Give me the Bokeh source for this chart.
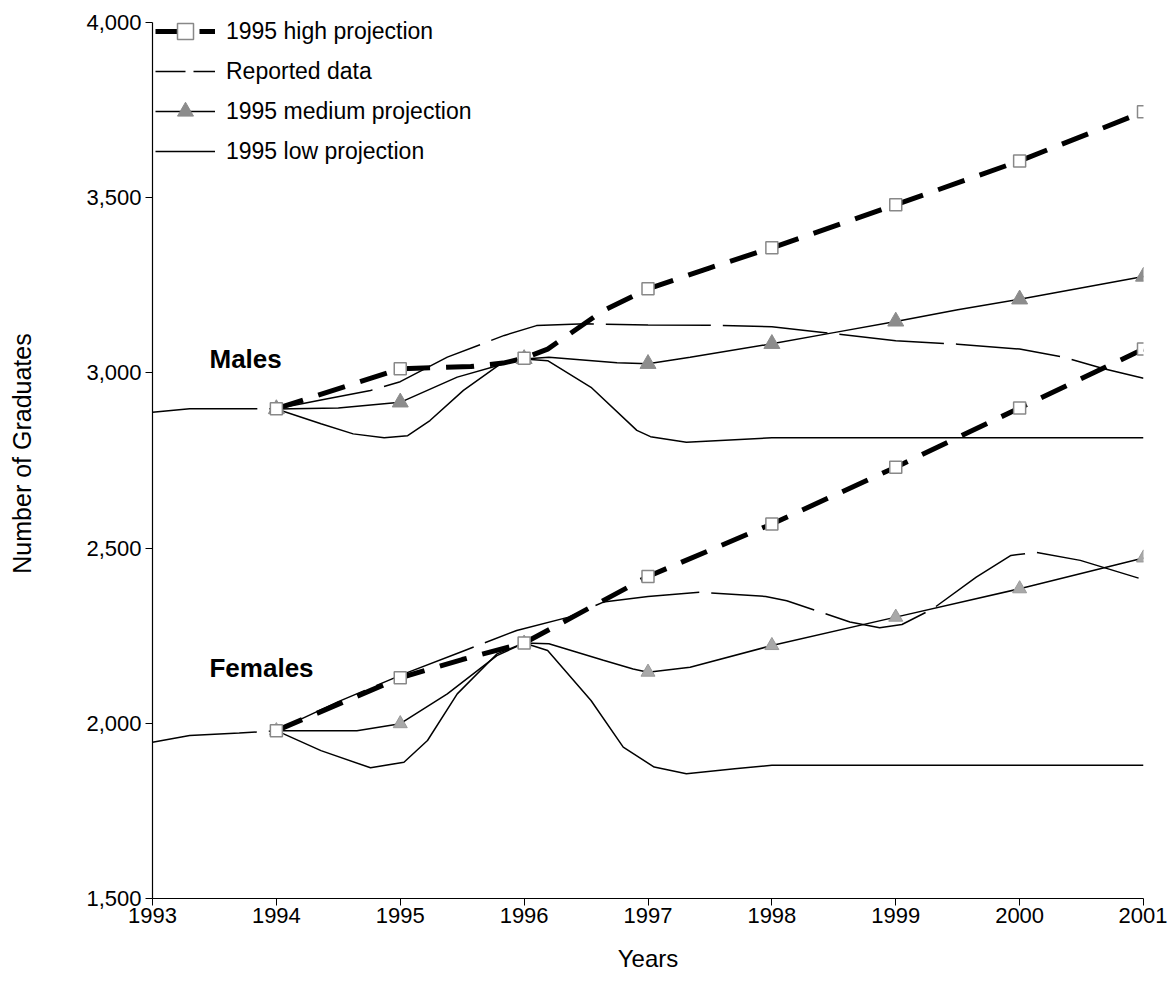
from bokeh.plotting import figure
from bokeh.models import Range1d, Legend, LegendItem, NumeralTickFormatter, FixedTicker, Label
from bokeh.embed import file_html
from bokeh.resources import INLINE

# ---------------- data ----------------
years_ticks = [1993, 1994, 1995, 1996, 1997, 1998, 1999, 2000, 2001]
y_ticks = [1500, 2000, 2500, 3000, 3500, 4000]

male_reported_x = [1993.0, 1993.3, 1994.0, 1994.36, 1994.76, 1995.0, 1995.38, 1995.84, 1996.1, 1996.5,
                   1997.0, 1997.5, 1998.0, 1998.5, 1999.0, 1999.5, 2000.0, 2000.35, 2000.68, 2001.0]
male_reported_y = [2888, 2898, 2898, 2923, 2950, 2975, 3045, 3107, 3135, 3140,
                   3137, 3136, 3132, 3112, 3092, 3082, 3068, 3045, 3012, 2985]

male_high_x = [1994, 1995, 1995.57, 1995.83, 1996, 1996.19, 1996.64, 1997, 1997.5, 1998, 1999, 2000, 2001]
male_high_y = [2898, 3012, 3018, 3028, 3042, 3068, 3178, 3240, 3300, 3357, 3480, 3605, 3745]

male_medium_x = [1994, 1994.5, 1995, 1995.46, 1995.84, 1996, 1996.2, 1996.75, 1997, 1997.34, 1998,
                 1998.5, 1999, 1999.5, 2000, 2001]
male_medium_y = [2897, 2900, 2916, 2988, 3026, 3040, 3045, 3029, 3026, 3045, 3083,
                 3115, 3147, 3180, 3210, 3275]

male_low_x = [1994, 1994.36, 1994.62, 1994.87, 1995.06, 1995.24, 1995.51, 1995.81, 1996, 1996.19,
              1996.54, 1996.91, 1997.02, 1997.31, 1998, 2001]
male_low_y = [2897, 2855, 2826, 2815, 2821, 2864, 2950, 3026, 3040, 3035,
              2959, 2836, 2818, 2802, 2815, 2815]

female_reported_x = [1993.0, 1993.3, 1993.7, 1994.0, 1994.5, 1995.03, 1995.5, 1995.94, 1996.36, 1996.64,
                     1997.0, 1997.42, 1997.95, 1998.12, 1998.63, 1998.87, 1999.05, 1999.3, 1999.65,
                     1999.93, 2000.13, 2000.49, 2001.0]
female_reported_y = [1946, 1965, 1972, 1979, 2062, 2141, 2205, 2265, 2303, 2346,
                     2362, 2374, 2362, 2350, 2289, 2273, 2282, 2327, 2417,
                     2479, 2488, 2465, 2410]

female_high_x = [1994, 1995, 1995.5, 1996, 1997, 1998, 1999, 2000, 2001]
female_high_y = [1979, 2130, 2182, 2229, 2419, 2569, 2731, 2900, 3068]

female_medium_x = [1994, 1994.65, 1995, 1995.38, 1995.78, 1996, 1996.2, 1996.64, 1996.88, 1997, 1997.34,
                   1998, 1999, 2000, 2001]
female_medium_y = [1979, 1979, 1999, 2084, 2193, 2229, 2227, 2180, 2155, 2146, 2160,
                   2222, 2303, 2384, 2472]

female_low_x = [1994, 1994.36, 1994.76, 1995.03, 1995.22, 1995.46, 1995.78, 1996, 1996.19, 1996.54,
                1996.8, 1997.05, 1997.31, 1997.7, 1998, 2001]
female_low_y = [1979, 1922, 1873, 1889, 1951, 2084, 2198, 2229, 2208, 2065,
                1932, 1875, 1856, 1870, 1880, 1880]

legend_labels = ["1995 high projection", "Reported data", "1995 medium projection", "1995 low projection"]


def yearly(xs, ys):
    pts = [(x, y) for x, y in zip(xs, ys) if float(x).is_integer()]
    return [p[0] for p in pts], [p[1] for p in pts]


FONT = "Liberation Sans"

# y range runs a little above 4,000 so that the legend is not clipped; the axis itself stops at 4,000
p = figure(width=1167, height=990, output_backend="svg", toolbar_location=None,
           x_range=Range1d(1993, 2001), y_range=Range1d(1500, 4040),
           min_border_left=152, min_border_right=24, min_border_top=8, min_border_bottom=92)
p.outline_line_color = None
p.xgrid.visible = False
p.ygrid.visible = False
p.background_fill_color = "white"

# axes
for ax in (p.xaxis[0], p.yaxis[0]):
    ax.axis_line_color = "black"
    ax.axis_line_width = 1.2
    ax.major_tick_line_color = "black"
    ax.major_tick_in = 0
    ax.major_tick_out = 7
    ax.minor_tick_line_color = None
    ax.major_label_text_font = FONT
    ax.major_label_text_font_size = "22px"
    ax.major_label_text_color = "black"
    ax.axis_label_text_font = FONT
    ax.axis_label_text_font_style = "normal"
    ax.axis_label_text_color = "black"

p.xaxis.ticker = FixedTicker(ticks=years_ticks)
p.yaxis.ticker = FixedTicker(ticks=y_ticks)
p.yaxis.bounds = (1500, 4000)
p.yaxis.formatter = NumeralTickFormatter(format="0,0")
p.xaxis.axis_label = "Years"
p.yaxis.axis_label = "Number of Graduates"
p.xaxis.axis_label_text_font_size = "24px"
p.yaxis.axis_label_text_font_size = "25px"
p.xaxis.major_label_standoff = 2
p.yaxis.major_label_standoff = 4
p.xaxis.axis_label_standoff = 19
p.yaxis.axis_label_standoff = 47

REP_DASH = "105 12"
HIGH_DASH = "28 16"

# reported data
r_rep_m = p.line(male_reported_x, male_reported_y, line_color="black", line_width=1.5, line_dash=REP_DASH)
p.line(female_reported_x, female_reported_y, line_color="black", line_width=1.5, line_dash=REP_DASH)
# legend-only sample of the reported-data line style (a single NaN point, draws nothing)
r_rep_legend = p.line(x=[float("nan")], y=[float("nan")], line_color="black", line_width=1.5, line_dash="30 8")

# low projection
r_low_m = p.line(male_low_x, male_low_y, line_color="black", line_width=1.5)
p.line(female_low_x, female_low_y, line_color="black", line_width=1.5)

# medium projection
r_med_m = p.line(male_medium_x, male_medium_y, line_color="black", line_width=1.5)
p.line(female_medium_x, female_medium_y, line_color="black", line_width=1.5)

# high projection
r_high_m = p.line(male_high_x, male_high_y, line_color="black", line_width=5, line_dash=HIGH_DASH)
p.line(female_high_x, female_high_y, line_color="black", line_width=5, line_dash=HIGH_DASH)

# markers
mx, my = yearly(male_medium_x, male_medium_y)
r_med_mk = p.scatter(mx, my, marker="triangle", size=16, fill_color="#8c8c8c", line_color="#8c8c8c")
fx, fy = yearly(female_medium_x, female_medium_y)
p.scatter(fx, fy, marker="triangle", size=14, fill_color="#a8a8a8", line_color="#999999")

hx, hy = yearly(male_high_x, male_high_y)
r_high_mk = p.scatter(hx, hy, marker="square", size=12, fill_color="white", line_color="#888888", line_width=1.5)
hfx, hfy = yearly(female_high_x, female_high_y)
p.scatter(hfx, hfy, marker="square", size=12, fill_color="white", line_color="#888888", line_width=1.5)

# group labels
p.add_layout(Label(x=1993.46, y=3041, text="Males", text_font=FONT, text_font_size="26px",
                   text_font_style="bold", text_baseline="middle", text_color="black"))
p.add_layout(Label(x=1993.46, y=2159, text="Females", text_font=FONT, text_font_size="26px",
                   text_font_style="bold", text_baseline="middle", text_color="black"))

legend = Legend(items=[
    LegendItem(label=legend_labels[0], renderers=[r_high_m, r_high_mk]),
    LegendItem(label=legend_labels[1], renderers=[r_rep_legend]),
    LegendItem(label=legend_labels[2], renderers=[r_med_m, r_med_mk]),
    LegendItem(label=legend_labels[3], renderers=[r_low_m]),
], location="top_left")
legend.label_text_font = FONT
legend.label_text_font_size = "23px"
legend.label_text_color = "black"
legend.glyph_width = 60
legend.glyph_height = 40
legend.label_height = 40
legend.spacing = 0
legend.padding = 3
legend.margin = 0
legend.label_standoff = 11
legend.background_fill_alpha = 0
legend.border_line_alpha = 0
p.add_layout(legend, "center")

open("out.html", "w").write(file_html(p, INLINE))
